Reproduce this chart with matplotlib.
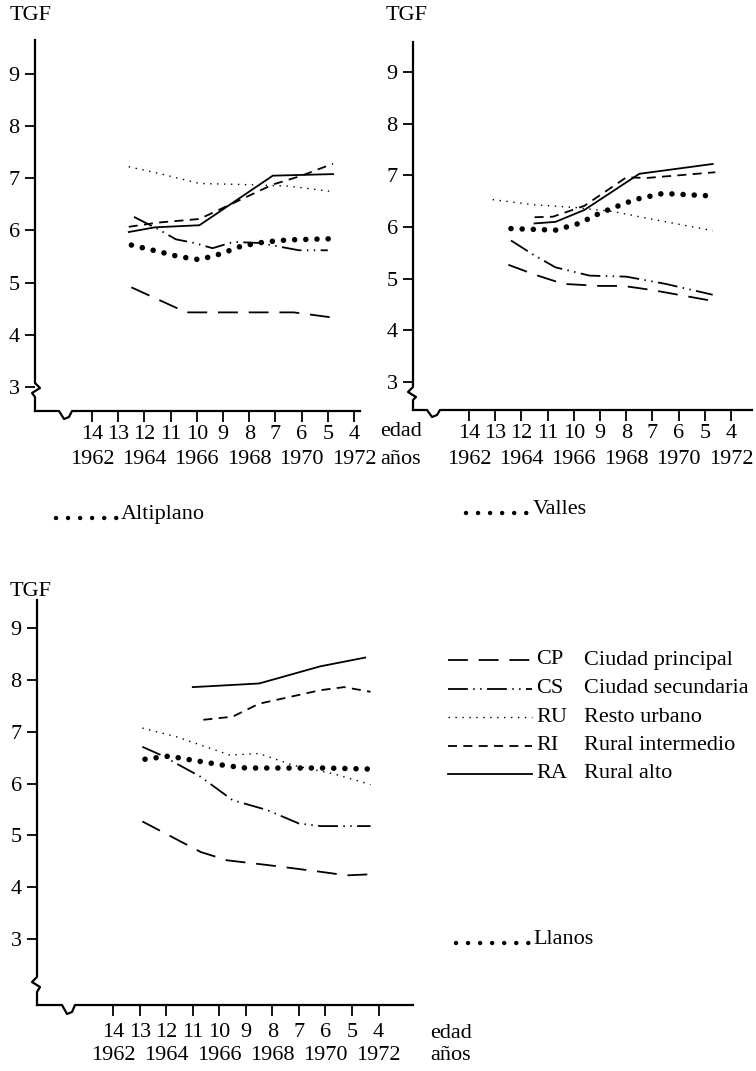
import matplotlib
matplotlib.use("Agg")
import matplotlib.pyplot as plt
from matplotlib.lines import Line2D

plt.rcParams['font.family'] = ['Liberation Serif', 'DejaVu Serif']

W, H = 756, 1071

# ---------------- data ----------------
ages = [14, 13, 12, 11, 10, 9, 8, 7, 6, 5, 4]
tick_years = [1962, 1963, 1964, 1965, 1966, 1967, 1968, 1969, 1970, 1971, 1972]
year_labels = ['1962', '1964', '1966', '1968', '1970', '1972']
year_label_pos = [1962, 1964, 1966, 1968, 1970, 1972]
y_ticks = [3, 4, 5, 6, 7, 8, 9]

# 2-A Altiplano
A_CP_x = [1963.5, 1965.6, 1967.5, 1969.7, 1971.2]
A_CP_y = [4.91, 4.43, 4.43, 4.43, 4.33]
A_CS_x = [1963.6, 1964.5, 1965.2, 1965.9, 1966.6, 1967.4, 1968.4, 1969.9, 1971.0]
A_CS_y = [6.26, 6.03, 5.83, 5.76, 5.66, 5.78, 5.76, 5.62, 5.62]
A_RU_x = [1963.4, 1964.5, 1966.1, 1967.8, 1969.5, 1971.1]
A_RU_y = [7.22, 7.10, 6.90, 6.88, 6.85, 6.75]
A_RI_x = [1963.4, 1964.5, 1966.1, 1967.5, 1968.9, 1970.0, 1971.2]
A_RI_y = [6.07, 6.15, 6.22, 6.55, 6.88, 7.05, 7.28]
A_RA_x = [1963.4, 1964.4, 1966.1, 1968.9, 1971.2]
A_RA_y = [5.97, 6.06, 6.10, 7.05, 7.08]
A_REG_x = [1963.5, 1964.5, 1965.3, 1966.1, 1966.9, 1967.7, 1968.6, 1969.5, 1971.1]
A_REG_y = [5.72, 5.60, 5.50, 5.44, 5.55, 5.70, 5.78, 5.82, 5.84]

# 2-B Valles
B_CP_x = [1963.5, 1964.5, 1965.6, 1967.0, 1967.9, 1969.0, 1971.3]
B_CP_y = [5.27, 5.08, 4.90, 4.86, 4.86, 4.78, 4.57]
B_CS_x = [1963.6, 1964.5, 1965.3, 1966.6, 1968.0, 1969.5, 1971.3]
B_CS_y = [5.74, 5.45, 5.22, 5.06, 5.04, 4.90, 4.69]
B_RU_x = [1962.9, 1964.5, 1966.0, 1967.5, 1969.0, 1971.3]
B_RU_y = [6.53, 6.43, 6.38, 6.30, 6.15, 5.93]
B_RI_x = [1964.5, 1965.2, 1966.4, 1968.0, 1968.8, 1971.4]
B_RI_y = [6.19, 6.20, 6.41, 6.96, 6.95, 7.06]
B_RA_x = [1964.5, 1965.3, 1966.4, 1968.5, 1971.3]
B_RA_y = [6.07, 6.10, 6.33, 7.03, 7.22]
B_REG_x = [1963.6, 1965.3, 1966.2, 1967.0, 1967.9, 1968.4, 1969.4, 1971.3]
B_REG_y = [5.97, 5.94, 6.07, 6.27, 6.45, 6.54, 6.65, 6.60]

# 2-C Llanos
C_CP_x = [1963.1, 1965.3, 1966.3, 1967.8, 1969.8, 1970.8, 1971.7]
C_CP_y = [5.27, 4.68, 4.52, 4.43, 4.30, 4.23, 4.25]
C_CS_x = [1963.1, 1963.8, 1965.3, 1966.5, 1967.8, 1969.0, 1969.8, 1971.7]
C_CS_y = [6.71, 6.55, 6.13, 5.68, 5.49, 5.23, 5.18, 5.18]
C_RU_x = [1963.1, 1964.4, 1966.4, 1967.5, 1968.8, 1970.3, 1971.7]
C_RU_y = [7.07, 6.90, 6.55, 6.58, 6.35, 6.19, 5.98]
C_RI_x = [1965.4, 1966.5, 1967.5, 1969.8, 1970.7, 1971.7]
C_RI_y = [7.23, 7.29, 7.54, 7.80, 7.86, 7.77]
C_RA_x = [1965.0, 1967.5, 1969.8, 1971.5]
C_RA_y = [7.86, 7.93, 8.26, 8.43]
C_REG_x = [1963.2, 1964.1, 1965.0, 1966.2, 1967.0, 1968.0, 1969.0, 1970.0, 1971.7]
C_REG_y = [6.47, 6.53, 6.45, 6.35, 6.30, 6.30, 6.30, 6.30, 6.28]

codes = ['CP', 'CS', 'RU', 'RI', 'RA']
names = ['Ciudad principal', 'Ciudad secundaria', 'Resto urbano',
         'Rural intermedio', 'Rural alto']

# ---------------- styles ----------------
STY = {
    'CP': dict(color='black', lw=1.3, linestyle=(0, (11, 6))),
    'CS': dict(color='black', lw=1.3, linestyle=(0, (11, 3, 0.8, 3, 0.8, 3))),
    'RU': dict(color='black', lw=1.0, linestyle=(0, (1, 4))),
    'RI': dict(color='black', lw=1.3, linestyle=(0, (5, 3.5))),
    'RA': dict(color='black', lw=1.3, linestyle='-'),
    'REG': dict(color='black', lw=4.0, linestyle=(0, (0.01, 2.0)),
                dash_capstyle='round'),
}
LEG_DOTS = dict(color='black', lw=3.2, linestyle=(0, (0.01, 2.7)),
                dash_capstyle='round')

fig = plt.figure(figsize=(W / 100, H / 100), dpi=100)
FS = 16

# overlay in pixel coordinates for free text / legend decorations
ov = fig.add_axes([0, 0, 1, 1], zorder=-1)
ov.set_xlim(0, W)
ov.set_ylim(H, 0)
ov.axis('off')


def make_panel(box, xlim, ylim, ybreak, xnotch, breakdir, year_y, xpad):
    l, t, r, b = box
    ax = fig.add_axes([l / W, 1 - b / H, (r - l) / W, (b - t) / H])
    ax.set_xlim(*xlim)
    ax.set_ylim(*ylim)
    for s in ax.spines.values():
        s.set_visible(False)
    w, h = r - l, b - t

    def P(px, py):
        return ((px - l) / w, (b - py) / h)

    # y axis with break
    y1, y2 = ybreak
    pts = [P(l, t), P(l, y1), P(l + 5 * breakdir, y1 + 5), P(l - 3 * breakdir, y1 + 10),
           P(l, y2), P(l, b)]
    ax.add_line(Line2D([p[0] for p in pts], [p[1] for p in pts], transform=ax.transAxes,
                       color='black', lw=1.6, clip_on=False))
    # x axis with notch
    xn, dn = xnotch
    pts = [P(l, b), P(xn - 8, b), P(xn - 3, b + dn), P(xn + 2, b + dn - 2), P(xn + 5, b), P(r, b)]
    ax.add_line(Line2D([p[0] for p in pts], [p[1] for p in pts], transform=ax.transAxes,
                       color='black', lw=1.6, clip_on=False))

    ax.set_xticks(tick_years)
    ax.set_xticklabels([str(a) for a in ages], fontsize=FS)
    ax.set_yticks(y_ticks)
    ax.set_yticklabels([str(v) for v in y_ticks], fontsize=FS)
    ax.tick_params(axis='x', direction='out', length=8, width=1.3, pad=xpad)
    ax.tick_params(axis='y', direction='out', length=7, width=1.3, pad=4)
    for yr, lab in zip(year_label_pos, year_labels):
        ax.text(yr, (b - year_y) / h, lab, transform=ax.get_xaxis_transform(),
                ha='center', va='center', fontsize=FS)
    return ax


def draw(ax, series):
    for key, xs, ys in series:
        ax.plot(xs, ys, **STY[key])


# Panel A
axA = make_panel((35, 40, 360, 411), (1959.82, 1972.23), (2.54, 9.65),
                 (383, 397), (67, 8), 1, 459, 2)
draw(axA, [('CP', A_CP_x, A_CP_y), ('CS', A_CS_x, A_CS_y), ('RU', A_RU_x, A_RU_y),
           ('RI', A_RI_x, A_RI_y), ('RA', A_RA_x, A_RA_y), ('REG', A_REG_x, A_REG_y)])

# Panel B
axB = make_panel((413, 42, 752, 410), (1959.86, 1972.8), (2.46, 9.58),
                 (387, 400), (435, 7), -1, 459, 2)
draw(axB, [('CP', B_CP_x, B_CP_y), ('CS', B_CS_x, B_CS_y), ('RU', B_RU_x, B_RU_y),
           ('RI', B_RI_x, B_RI_y), ('RA', B_RA_x, B_RA_y), ('REG', B_REG_x, B_REG_y)])

# Panel C
axC = make_panel((37, 600, 413, 1005), (1959.13, 1973.3), (1.73, 9.54),
                 (977, 992), (70, 9), -1, 1056, 5)
draw(axC, [('CP', C_CP_x, C_CP_y), ('CS', C_CS_x, C_CS_y), ('RU', C_RU_x, C_RU_y),
           ('RI', C_RI_x, C_RI_y), ('RA', C_RA_x, C_RA_y), ('REG', C_REG_x, C_REG_y)])

# Free texts
ov.text(10, 16, 'TGF', fontsize=FS, ha='left', va='center')
ov.text(386, 16, 'TGF', fontsize=FS, ha='left', va='center')
ov.text(10, 592, 'TGF', fontsize=FS, ha='left', va='center')
ov.text(52, 90, '2–A  Altiplano', fontsize=FS, ha='left', va='center')
ov.text(442, 88, '2–B Valles', fontsize=FS, ha='left', va='center')
ov.text(72, 628, '2–C Llanos', fontsize=FS, ha='left', va='center')
ov.text(380, 432, 'edad', fontsize=FS, ha='left', va='center')
ov.text(380, 459, 'años', fontsize=FS, ha='left', va='center')
ov.text(430, 1033, 'edad', fontsize=FS, ha='left', va='center')
ov.text(430, 1056, 'años', fontsize=FS, ha='left', va='center')

# Region legends
for (x0, x1, y, lab) in [(56, 118, 515, 'Altiplano'), (466, 530, 510, 'Valles'),
                         (456, 530, 940, 'Llanos')]:
    ov.add_line(Line2D([x0, x1], [y + 3, y + 3], **LEG_DOTS))
    ov.text(x1 + 3, y, lab, fontsize=FS, ha='left', va='center')

# Strata legend
for i, (c, n) in enumerate(zip(codes, names)):
    y = 660 + i * 28.5
    ov.add_line(Line2D([448, 532], [y, y], **STY[c]))
    ov.text(536, y, c, fontsize=FS, ha='left', va='center')
    ov.text(584, y, n, fontsize=FS, ha='left', va='center')

fig.savefig('out.png', dpi=100)
